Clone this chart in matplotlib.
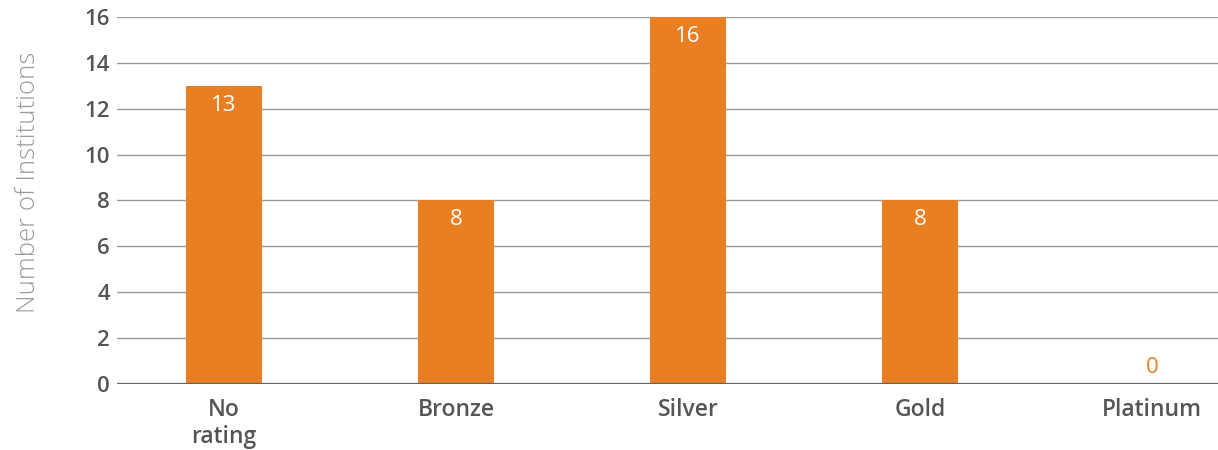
import matplotlib
matplotlib.use("Agg")
import matplotlib.pyplot as plt

categories = ["No\nrating", "Bronze", "Silver", "Gold", "Platinum"]
counts = [13, 8, 16, 8, 0]
y_ticks = [0, 2, 4, 6, 8, 10, 12, 14, 16]

orange = "#e97f22"
text_gray = "#555555"

plt.rcParams["font.family"] = ["Open Sans", "DejaVu Sans"]

fig = plt.figure(figsize=(12.18, 4.5), dpi=100)
axis = fig.add_axes([0.096, 0.147, 0.904, 0.815])

x_pos = list(range(len(categories)))
axis.bar(x_pos, counts, width=0.33, color=orange, zorder=3)

for x, value in zip(x_pos, counts):
    if value > 0:
        axis.text(x, value - 0.85, str(value), ha="center", va="center",
                  color="white", fontsize=16, zorder=4)
    else:
        axis.text(x, value + 0.7, str(value), ha="center", va="center",
                  color=orange, fontsize=16, zorder=4)

axis.set_xlim(-0.461, 4.284)
axis.set_ylim(0, 16)
axis.set_yticks(y_ticks)
axis.set_yticklabels([str(t) for t in y_ticks], fontsize=16, fontweight="semibold", color=text_gray)
axis.set_xticks(x_pos)
axis.set_xticklabels(categories, fontsize=16.5, fontweight="semibold", color=text_gray, linespacing=1.2)
axis.tick_params(axis="both", length=0)
axis.tick_params(axis="y", pad=5)
axis.tick_params(axis="x", pad=10)

for spine in axis.spines.values():
    spine.set_visible(False)
axis.yaxis.grid(True, color="#9a9a9a", linewidth=1.0, zorder=0)
axis.axhline(0, color="#666666", linewidth=1.6, zorder=5)

axis.set_ylabel("Number of Institutions", fontsize=18.5, color="#9c9c9c", fontweight="light",
                labelpad=31, y=0.549)

fig.savefig("out.png", dpi=100)
